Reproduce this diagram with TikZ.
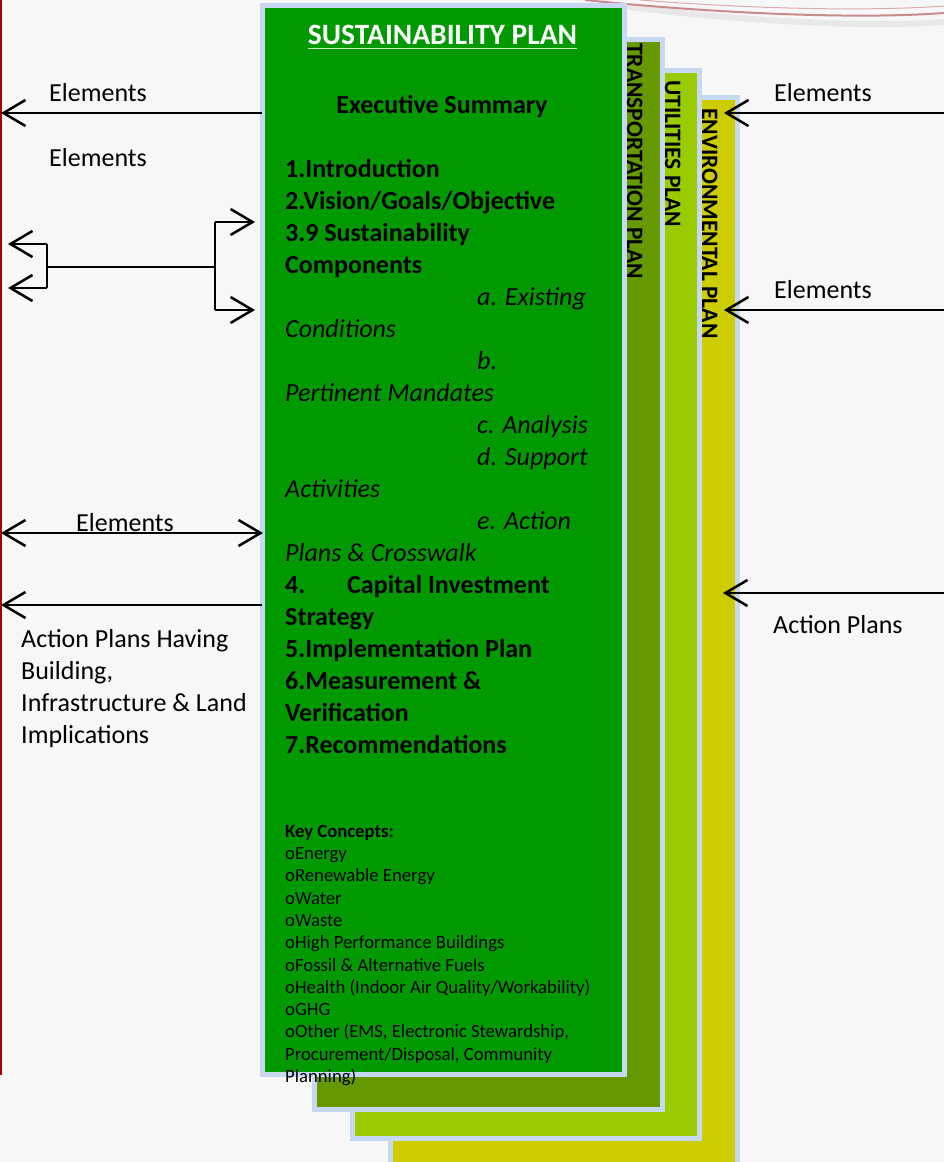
\documentclass[tikz,border=0pt]{standalone}
\usepackage{fontspec}
\setmainfont{Carlito}
\usetikzlibrary{arrows.meta}
\definecolor{bg}{HTML}{F7F7F7}
\definecolor{bord}{HTML}{C6D9F1}
\definecolor{gmain}{HTML}{009900}
\definecolor{gtrans}{HTML}{669900}
\definecolor{gutil}{HTML}{99CC00}
\definecolor{genv}{HTML}{CCCC00}
\definecolor{redline}{HTML}{A00000}
\definecolor{uline}{HTML}{CFEFC0}
\definecolor{swoosh}{HTML}{C98A8A}
\begin{document}
\begin{tikzpicture}[x=1pt,y=-1pt,
  >={Straight Barb[length=22pt,width=26pt]},
  plan/.style={draw=bord, line width=5pt, anchor=north west, inner sep=0pt, outer sep=0pt, rectangle},
  conn/.style={line width=2.5pt, draw=black},
  thinconn/.style={line width=1.4pt, draw=black},
  lbl/.style={font=\fontsize{26}{32}\selectfont, inner sep=0pt},
  mainb/.style={font=\bfseries\fontsize{26}{32}\selectfont, inner sep=0pt, anchor=base west},
  maini/.style={font=\itshape\fontsize{26}{32}\selectfont, inner sep=0pt, anchor=base west},
  keyt/.style={font=\fontsize{18.7}{22.3}\selectfont, inner sep=0pt, anchor=base west},
  vlab/.style={font=\bfseries\fontsize{23.5}{28}\selectfont, inner sep=0pt, anchor=base west, rotate=-90}
]
\useasboundingbox (0,0) rectangle (944,1162);
\fill[bg] (0,0) rectangle (944,1162);
% top-right swoosh
\draw[line width=6pt, gray!18] (600,3) .. controls (720,20) and (860,28) .. (944,22);
\draw[line width=2pt, swoosh] (585,0) .. controls (700,12) and (850,20) .. (944,13);
\draw[line width=1pt, swoosh!70] (640,0) .. controls (740,8) and (860,12) .. (944,6);
% left red line
\draw[redline, line width=2.5pt] (1.2,0) -- (1.2,1075);

% plan boxes
\node[plan, fill=genv, minimum width=347pt, minimum height=1080pt] (envir) at (390.5,97.5) {};
\node[plan, fill=gutil, minimum width=347pt, minimum height=1068pt] (util) at (352.5,70.5) {};
\node[plan, fill=gtrans, minimum width=348pt, minimum height=1070pt] (transp) at (314.5,39.5) {};
\node[plan, fill=gmain, minimum width=362pt, minimum height=1069pt] (main) at (262.5,5.5) {};

% vertical labels
\node[vlab] (ttrans) at (627,43) {TRANSPORTATION PLAN};
\node[vlab] (tutil) at (665,80) {UTILITIES PLAN};
\node[vlab] (tenv) at (702,108) {ENVIRONMENTAL PLAN};

% header
\node[anchor=base, inner sep=0pt, text=white, font=\bfseries\fontsize{29.5}{34}\selectfont] (hdr) at (442.5,44) {SUSTAINABILITY PLAN};
\coordinate (ul1) at (308,48.5);
\coordinate (ul2) at (577,48.5);
\draw[uline, line width=1.6pt] (ul1) -- (ul2);

% main text
\node[font=\bfseries\fontsize{26}{32}\selectfont, inner sep=0pt, anchor=base] (exec) at (442,113) {Executive Summary};
\node[mainb] (m1) at (285,177) {1.Introduction};
\node[mainb] (m2) at (285,209) {2.Vision/Goals/Objective};
\node[mainb] (m3) at (285,241) {3.9 Sustainability};
\node[mainb] (m4) at (285,273) {Components};
\node[maini] (m5) at (477,305) {a. Existing};
\node[maini] (m6) at (285,337) {Conditions};
\node[maini] (m7) at (477,369) {b.};
\node[maini] (m8) at (285,401) {Pertinent Mandates};
\node[maini] (m9) at (477,433) {c. Analysis};
\node[maini] (m10) at (477,465) {d. Support};
\node[maini] (m11) at (285,497) {Activities};
\node[maini] (m12) at (477,529) {e. Action};
\node[maini] (m13) at (285,561) {Plans \& Crosswalk};
\node[mainb] (m14a) at (285,593) {4.};
\node[mainb] (m14b) at (347,593) {Capital Investment};
\node[mainb] (m15) at (285,625) {Strategy};
\node[mainb] (m16) at (285,657) {5.Implementation Plan};
\node[mainb] (m17) at (285,689) {6.Measurement \&};
\node[mainb] (m18) at (285,721) {Verification};
\node[mainb] (m19) at (285,753) {7.Recommendations};

% key concepts
\node[keyt, font=\bfseries\fontsize{18.7}{22.3}\selectfont] (k0) at (285,837) {Key Concepts:};
\node[keyt] (k1) at (285,859.5) {oEnergy};
\node[keyt] (k2) at (285,881.8) {oRenewable Energy};
\node[keyt] (k3) at (285,904.1) {oWater};
\node[keyt] (k4) at (285,926.4) {oWaste};
\node[keyt] (k5) at (285,948.7) {oHigh Performance Buildings};
\node[keyt] (k6) at (285,971) {oFossil \& Alternative Fuels};
\node[keyt] (k7) at (285,993.3) {oHealth (Indoor Air Quality/Workability)};
\node[keyt] (k8) at (285,1015.6) {oGHG};
\node[keyt] (k9) at (285,1037.9) {oOther (EMS, Electronic Stewardship,};
\node[keyt] (k10) at (285,1060.2) {Procurement/Disposal, Community};
\node[keyt] (k11) at (285,1082.5) {Planning)};

% left side labels
\node[lbl, anchor=base] (le1) at (98,101) {Elements};
\node[lbl, anchor=base] (le2) at (98,166) {Elements};
\node[lbl, anchor=base] (le3) at (125,531) {Elements};
\node[lbl, anchor=base west] (la1) at (21,647) {Action Plans Having};
\node[lbl, anchor=base west] (la2) at (21,679) {Building,};
\node[lbl, anchor=base west] (la3) at (21,711) {Infrastructure \& Land};
\node[lbl, anchor=base west] (la4) at (21,743) {Implications};

% right side labels
\node[lbl, anchor=base] (re1) at (823,101) {Elements};
\node[lbl, anchor=base] (re2) at (823,298) {Elements};
\node[lbl, anchor=base west] (ra1) at (773,633) {Action Plans};

% connector coordinates
\coordinate (a1s) at (262,113);  \coordinate (a1e) at (1,113);
\coordinate (a2s) at (1,533);    \coordinate (a2e) at (263,533);
\coordinate (a3s) at (262,605);  \coordinate (a3e) at (1,605);
\coordinate (r1s) at (944,113);  \coordinate (r1e) at (724,113);
\coordinate (r2s) at (944,310);  \coordinate (r2e) at (724,310);
\coordinate (r3s) at (944,593);  \coordinate (r3e) at (723,593);
% bracket
\coordinate (bl1) at (8,244);  \coordinate (bl2) at (8,288);
\coordinate (blt) at (47,244); \coordinate (blb) at (47,288);
\coordinate (blm) at (47,267); \coordinate (bm1) at (84,267);
\coordinate (bm2) at (177,267); \coordinate (brm) at (215,267);
\coordinate (brt) at (215,222); \coordinate (brb) at (215,310);
\coordinate (br1) at (255,222); \coordinate (br2) at (255,310);

\draw[conn,->] (a1s) -- (a1e);
\draw[conn,<->] (a2s) -- (a2e);
\draw[conn,->] (a3s) -- (a3e);
\draw[conn,->] (r1s) -- (r1e);
\draw[conn,->] (r2s) -- (r2e);
\draw[conn,->] (r3s) -- (r3e);

\draw[conn,->] (blt) -- (bl1);
\draw[conn,->] (blb) -- (bl2);
\draw[conn] (blt) -- (blb);
\draw[conn] (blm) -- (bm1);
\draw[thinconn] (bm1) -- (bm2);
\draw[conn] (bm2) -- (brm);
\draw[conn] (brt) -- (brb);
\draw[conn,->] (brt) -- (br1);
\draw[conn,->] (brb) -- (br2);
\end{tikzpicture}
\end{document}
